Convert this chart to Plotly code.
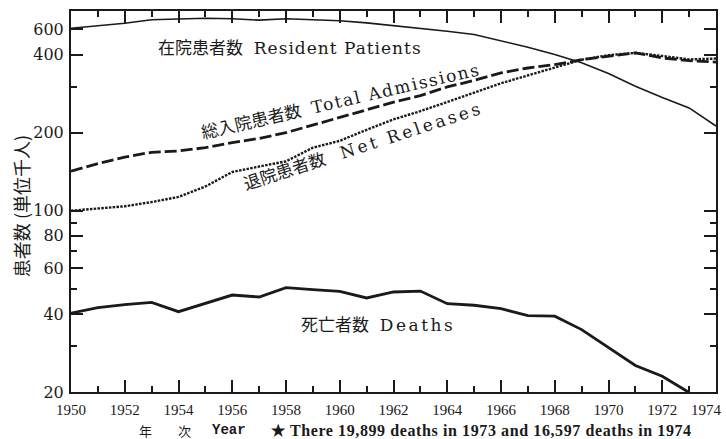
import plotly.graph_objects as go

# ---- data (thousands of patients) ----
years = list(range(1950, 1975))
resident = [505, 516, 528, 545, 550, 552, 550, 543, 550, 546, 540, 530, 518, 506,
            492, 478, 452, 427, 400, 372, 338, 302, 273, 249, 212]
admissions = [142, 152, 161, 168, 170, 175, 183, 190, 200, 214, 230, 245, 262, 278,
              300, 318, 340, 355, 366, 382, 395, 406, 388, 379, 374]
releases = [100, 102, 104, 108, 113, 124, 141, 148, 155, 175, 186, 205, 225, 242,
            262, 285, 310, 333, 358, 382, 398, 406, 395, 383, 386]
death_years = list(range(1950, 1974))
deaths = [40.3, 42.3, 43.4, 44.3, 40.8, 43.8, 47.3, 46.5, 50.5, 49.6, 48.9, 46.1,
          48.6, 49.0, 43.8, 43.2, 41.9, 39.4, 39.2, 34.8, 29.6, 25.3, 23.0, 19.9]

x_tickvals = list(range(1950, 1975, 2))
x_ticktext = [str(v) for v in x_tickvals[:-1]] + [""]   # 1974 drawn as a text (edge)
x_minor = list(range(1951, 1974, 2))
y_tickvals = [20, 40, 60, 80, 100, 200, 400, 500]
y_ticktext = ["20", "40", "60", "80", "100", "200", "400", "600"]
y_minor = [30, 50, 70, 90, 300]

W, H = 726, 439
ML, MR, MT, MB = 71, 8, 11, 47
PW, PH = W - ML - MR, H - MT - MB


def px(x):
    return (x - ML) / PW


def py(y):
    return (H - MB - y) / PH


INK = "#1a1a1a"
SERIF = "DejaVu Serif, Noto Sans CJK JP, serif"

fig = go.Figure()
fig.add_trace(go.Scatter(x=years, y=resident, mode="lines",
                         line=dict(color=INK, width=1.6), showlegend=False))
fig.add_trace(go.Scatter(x=years, y=admissions, mode="lines",
                         line=dict(color=INK, width=2.8, dash="12px,4px"), showlegend=False))
fig.add_trace(go.Scatter(x=years, y=releases, mode="lines",
                         line=dict(color=INK, width=2.4, dash="2.5px,1.3px"), showlegend=False))
fig.add_trace(go.Scatter(x=death_years, y=deaths, mode="lines",
                         line=dict(color=INK, width=2.8), showlegend=False))

ann = []


def add(text, x, y, size=16, angle=0, family=SERIF, bold=False):
    ann.append(dict(text=text, x=px(x), y=py(y), xref="paper", yref="paper",
                    showarrow=False, textangle=angle, xanchor="center", yanchor="middle",
                    font=dict(family=family, size=size, color=INK,
                              weight="bold" if bold else "normal")))


def sp(text, ls):
    return '<span style="letter-spacing:%spx">%s</span>' % (ls, text)


add("在院患者数  " + sp("Resident Patients", 1), 291, 48, size=17)
add("総入院患者数  " + sp("Total Admissions", 1.7), 342, 101, size=17, angle=-13)
add("退院患者数   " + sp("Net Releases", 3), 364, 146, size=17, angle=-18)
add("死亡者数  " + sp("Deaths", 2.5), 379, 325, size=17)
add("患者数 (単位千人)", 21, 206, size=18, angle=-90, family="Noto Sans CJK JP")
add("1974", 708, 410, size=15, family="Liberation Serif")
add("年", 146, 430, size=13, family="Noto Sans CJK JP")
add("次", 185, 430, size=13, family="Noto Sans CJK JP")
add("Year", 229, 430, size=14, family="Liberation Mono", bold=True)
add(sp("★ There 19,899 deaths in 1973 and 16,597 deaths in 1974", 0.6), 483, 430, size=16,
    family="Liberation Serif", bold=True)

fig.update_layout(
    width=W, height=H,
    margin=dict(l=ML, r=MR, t=MT, b=MB, pad=0),
    paper_bgcolor="white", plot_bgcolor="white",
    annotations=ann,
    xaxis=dict(range=[1950, 1974], tickmode="array", tickvals=x_tickvals, ticktext=x_ticktext,
               ticks="inside", ticklen=12, tickwidth=1.5, tickcolor=INK,
               showline=True, linecolor=INK, linewidth=2, mirror="ticks",
               showgrid=False, zeroline=False, ticklabelstandoff=3,
               tickfont=dict(family="Liberation Serif", size=15, color=INK),
               minor=dict(tickmode="array", tickvals=x_minor,
                          ticks="inside", ticklen=6, tickwidth=1.5, tickcolor=INK,
                          showgrid=False)),
    yaxis=dict(type="log", range=[1.30103, 2.770], tickmode="array",
               tickvals=y_tickvals, ticktext=y_ticktext,
               ticks="inside", ticklen=12, tickwidth=1.5, tickcolor=INK,
               showline=True, linecolor=INK, linewidth=2, mirror="ticks",
               showgrid=False, zeroline=False, ticklabelstandoff=2,
               tickfont=dict(family="DejaVu Serif", size=16, color=INK),
               minor=dict(tickmode="array", tickvals=y_minor,
                          ticks="inside", ticklen=6, tickwidth=1.5, tickcolor=INK,
                          showgrid=False)),
)

fig.write_html("out.html", config={"displayModeBar": False},
               post_script="document.body.style.margin='0px';")
